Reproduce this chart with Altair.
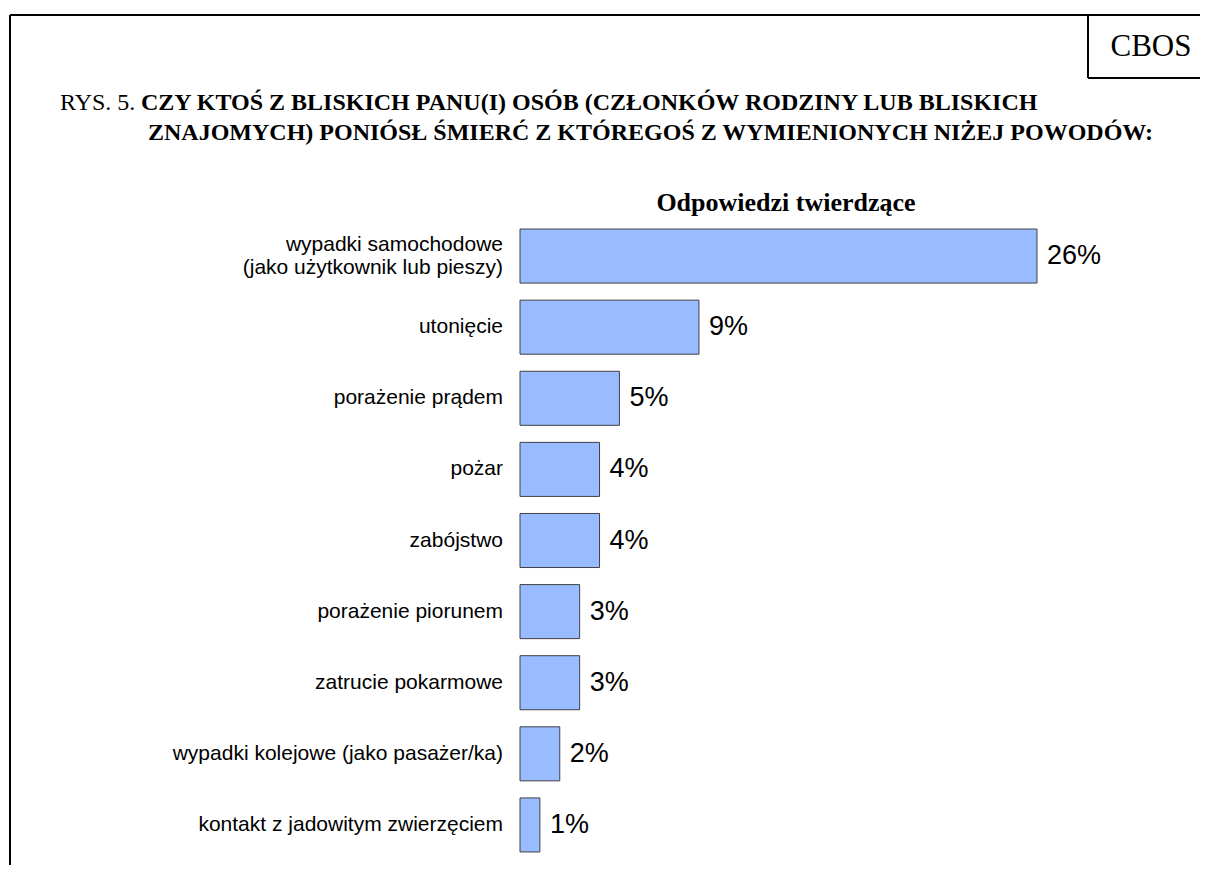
import altair as alt
import pandas as pd

categories = [
    "wypadki samochodowe\n(jako użytkownik lub pieszy)",
    "utonięcie",
    "porażenie prądem",
    "pożar",
    "zabójstwo",
    "porażenie piorunem",
    "zatrucie pokarmowe",
    "wypadki kolejowe (jako pasażer/ka)",
    "kontakt z jadowitym zwierzęciem",
]
values = [26, 9, 5, 4, 4, 3, 3, 2, 1]
value_labels = [f"{v}%" for v in values]
line_counts = [c.count("\n") + 1 for c in categories]

title_prefix = "RYS. 5."
title_line1 = "CZY KTOŚ Z BLISKICH PANU(I) OSÓB (CZŁONKÓW RODZINY LUB BLISKICH"
title_line2 = "ZNAJOMYCH) PONIÓSŁ ŚMIERĆ Z KTÓREGOŚ Z WYMIENIONYCH NIŻEJ POWODÓW:"
subtitle = "Odpowiedzi twierdzące"
brand = "CBOS"

df = pd.DataFrame({"cat": categories, "val": values, "lab": value_labels, "n": line_counts})

SERIF = "Liberation Serif"
SANS = "Liberation Sans"

xs = alt.Scale(domain=[0, 26], range=[512, 1029])
ys = alt.Scale(domain=categories, range=[212.5, 852.5], paddingInner=0.24, paddingOuter=0.12)

base = alt.Chart(df)

bars = base.mark_bar(fill="#99BBFF", stroke="#404040", strokeWidth=1).encode(
    x=alt.X("val:Q", scale=xs, axis=None),
    x2=alt.datum(0),
    y=alt.Y("cat:N", scale=ys, axis=None, sort=categories),
)

vlabels = base.mark_text(align="left", baseline="middle", dx=10, fontSize=27, font=SANS, color="black").encode(
    x=alt.X("val:Q", scale=xs, axis=None),
    y=alt.Y("cat:N", scale=ys, axis=None, sort=categories),
    text="lab:N",
)

def cat_labels(nlines):
    return base.transform_filter(alt.datum.n == nlines).mark_text(
        align="right", baseline="middle", fontSize=21, font=SANS, color="black",
        lineBreak="\n", lineHeight=23, dy=-(nlines - 1) * 11.5
    ).encode(
        x=alt.value(495),
        y=alt.Y("cat:N", scale=ys, axis=None, sort=categories),
        text="cat:N",
    )

one = alt.Data(values=[{"a": 1}])

def rule(x1, x2, y1, y2):
    return alt.Chart(one).mark_rule(color="black", strokeWidth=2).encode(
        x=alt.value(x1), x2=alt.value(x2), y=alt.value(y1), y2=alt.value(y2)
    )

def txt(s, x, y, size, font, weight="normal", align="left"):
    return alt.Chart(one).mark_text(
        text=s, fontSize=size, font=font, fontWeight=weight, align=align,
        baseline="alphabetic", color="black"
    ).encode(x=alt.value(x), y=alt.value(y))

layers = [
    rule(2, 2, 7, 857),
    rule(2, 1192, 7, 7),
    rule(1080, 1080, 7, 70),
    rule(1080, 1192, 70, 70),
    txt(brand, 1143, 48, 31, SERIF, align="center"),
    txt(title_prefix, 52, 102, 24, SERIF),
    txt(title_line1, 133, 102, 24, SERIF, weight="bold"),
    txt(title_line2, 140, 132, 24, SERIF, weight="bold"),
    txt(subtitle, 778, 203, 26, SERIF, weight="bold", align="center"),
    bars,
    vlabels,
    cat_labels(1),
    cat_labels(2),
]

chart = alt.layer(*layers).properties(
    width=1192, height=857,
    autosize=alt.AutoSizeParams(type="none"),
    padding=0,
).configure_view(stroke=None)

chart.save("out.html", embed_options={"renderer": "svg", "actions": False})
